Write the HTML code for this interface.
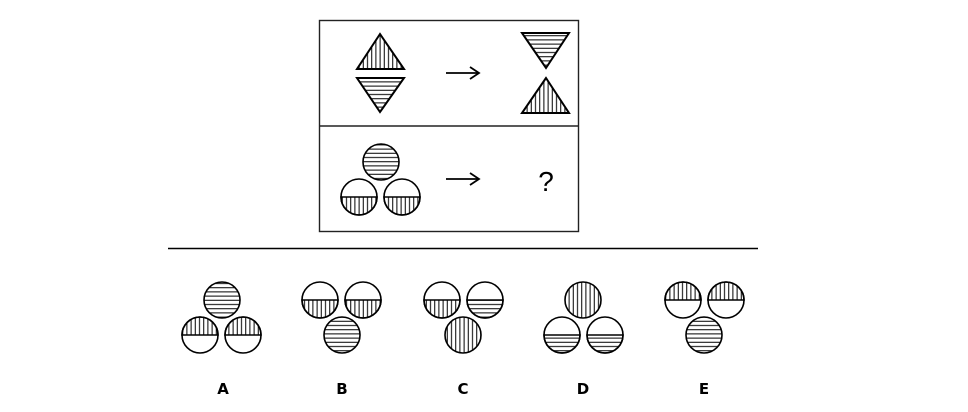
<!DOCTYPE html>
<html><head><meta charset="utf-8"><style>html,body{margin:0;padding:0;background:#fff}svg{display:block}</style></head>
<body>
<svg width="968" height="412" viewBox="0 0 968 412" xmlns="http://www.w3.org/2000/svg">
<defs>
<pattern id="v" width="4.2" height="10" patternUnits="userSpaceOnUse"><line x1="2.1" y1="0" x2="2.1" y2="10" stroke="#000" stroke-width="1"/></pattern>
<pattern id="h" width="10" height="4.2" patternUnits="userSpaceOnUse"><line x1="0" y1="2.1" x2="10" y2="2.1" stroke="#000" stroke-width="1"/></pattern>
</defs>
<g stroke="#000" fill="none" stroke-width="1.4">
<rect x="319.5" y="20.5" width="259" height="211" stroke="#222"/>
<line x1="319.5" y1="126" x2="578.5" y2="126" stroke="#222"/>
<line x1="168" y1="248.5" x2="758" y2="248.5" stroke-width="1.6"/>
</g>
<g stroke="#000" stroke-width="2" stroke-linejoin="miter">
<polygon points="380,34 357,69 404,69" fill="url(#v)"/>
<polygon points="357,78 404,78 380,112" fill="url(#h)"/>
<polygon points="522,33 569,33 546,68" fill="url(#h)"/>
<polygon points="546,78 522,113 569,113" fill="url(#v)"/>
</g>
<g stroke="#000" stroke-width="1.8" fill="none">
<line x1="446" y1="73" x2="479" y2="73"/><polyline points="470,67 479,73 470,79"/>
<line x1="446" y1="179" x2="479" y2="179"/><polyline points="470,173 479,179 470,185"/>
</g>
<text x="546" y="191" font-family="Liberation Sans, sans-serif" font-size="28" text-anchor="middle">?</text>
<g stroke="#000" stroke-width="1.6">
<circle cx="381" cy="162" r="18" fill="url(#h)"/>
<path d="M341,197 A18,18 0 0 0 377,197 Z" fill="url(#v)"/><circle cx="359" cy="197" r="18" fill="none"/>
<path d="M384,197 A18,18 0 0 0 420,197 Z" fill="url(#v)"/><circle cx="402" cy="197" r="18" fill="none"/>
<circle cx="222" cy="300" r="18" fill="url(#h)"/>
<path d="M182,335 A18,18 0 0 1 218,335 Z" fill="url(#v)"/><circle cx="200" cy="335" r="18" fill="none"/>
<path d="M225,335 A18,18 0 0 1 261,335 Z" fill="url(#v)"/><circle cx="243" cy="335" r="18" fill="none"/>
<path d="M302,300 A18,18 0 0 0 338,300 Z" fill="url(#v)"/><circle cx="320" cy="300" r="18" fill="none"/>
<path d="M345,300 A18,18 0 0 0 381,300 Z" fill="url(#v)"/><circle cx="363" cy="300" r="18" fill="none"/>
<circle cx="342" cy="335" r="18" fill="url(#h)"/>
<path d="M424,300 A18,18 0 0 0 460,300 Z" fill="url(#v)"/><circle cx="442" cy="300" r="18" fill="none"/>
<path d="M467,300 A18,18 0 0 0 503,300 Z" fill="url(#h)"/><circle cx="485" cy="300" r="18" fill="none"/>
<circle cx="463" cy="335" r="18" fill="url(#v)"/>
<circle cx="583" cy="300" r="18" fill="url(#v)"/>
<path d="M544,335 A18,18 0 0 0 580,335 Z" fill="url(#h)"/><circle cx="562" cy="335" r="18" fill="none"/>
<path d="M587,335 A18,18 0 0 0 623,335 Z" fill="url(#h)"/><circle cx="605" cy="335" r="18" fill="none"/>
<path d="M665,300 A18,18 0 0 1 701,300 Z" fill="url(#v)"/><circle cx="683" cy="300" r="18" fill="none"/>
<path d="M708,300 A18,18 0 0 1 744,300 Z" fill="url(#v)"/><circle cx="726" cy="300" r="18" fill="none"/>
<circle cx="704" cy="335" r="18" fill="url(#h)"/>
</g>
<g font-family="DejaVu Sans, Liberation Sans, sans-serif" font-weight="bold" font-size="15" text-anchor="middle">
<text x="223" y="394">A</text><text x="342" y="394">B</text><text x="463" y="394">C</text><text x="583" y="394">D</text><text x="704" y="394">E</text>
</g>
</svg>
</body></html>
